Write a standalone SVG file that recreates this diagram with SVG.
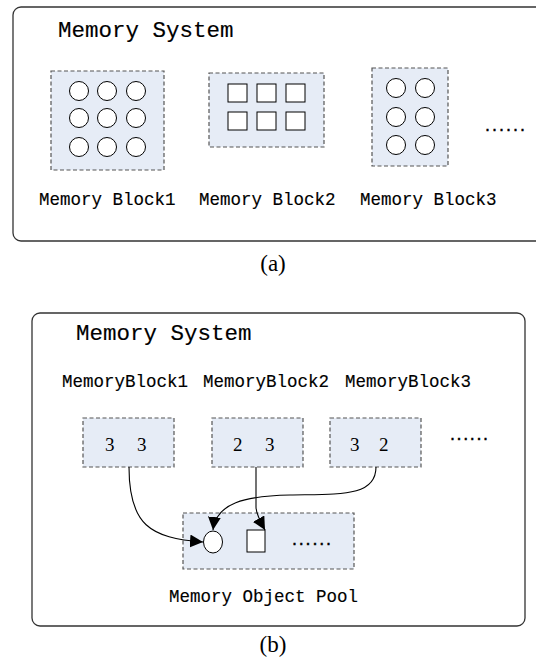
<svg xmlns="http://www.w3.org/2000/svg" width="536" height="662" viewBox="0 0 536 662">
<defs>
<marker id="arr" viewBox="0 0 10 10" refX="10" refY="5" markerWidth="13" markerHeight="13" markerUnits="userSpaceOnUse" orient="auto">
<path d="M0,0 L10,5 L0,10 Z" fill="#000"/>
</marker>
</defs>
<style>
.outer{fill:#fff;stroke:#333;stroke-width:1.3}
.blk{fill:#e6ecf6;stroke:#555;stroke-width:1.2;stroke-dasharray:4,2.5}
.obj{fill:#fff;stroke:#000;stroke-width:1}
.mono{font-family:"Liberation Mono","DejaVu Sans Mono",monospace;fill:#000;stroke:#000;stroke-width:0.15}
.title{font-size:22.5px}
.lbl{font-size:17.5px}
.num{font-family:"Liberation Serif","DejaVu Serif",serif;font-size:19px;fill:#000}
.cap{font-family:"Liberation Serif","DejaVu Serif",serif;font-size:23px;fill:#000;text-anchor:middle}
.dots{font-family:"Liberation Sans",sans-serif;font-size:18px;fill:#000;stroke:#000;stroke-width:0.4}
.con{fill:none;stroke:#000;stroke-width:1.1}
</style>
<rect width="536" height="662" fill="#fff"/>

<g id="panelA">
<rect class="outer" x="13" y="7" width="535" height="234" rx="8"/>
<text class="mono title" x="58" y="37">Memory System</text>
</g>
<g id="blockA1">
<rect class="blk" x="51" y="71" width="113" height="99"/>
<circle class="obj" cx="79" cy="91" r="9.5"/><circle class="obj" cx="107" cy="91" r="9.5"/><circle class="obj" cx="136" cy="91" r="9.5"/>
<circle class="obj" cx="79" cy="118" r="9.5"/><circle class="obj" cx="107" cy="118" r="9.5"/><circle class="obj" cx="136" cy="118" r="9.5"/>
<circle class="obj" cx="79" cy="147" r="9.5"/><circle class="obj" cx="107" cy="147" r="9.5"/><circle class="obj" cx="136" cy="147" r="9.5"/>
<text class="mono lbl" x="39" y="205">Memory Block1</text>
</g>
<g id="blockA2">
<rect class="blk" x="209" y="73" width="115" height="74"/>
<rect class="obj" x="228" y="84" width="19" height="18"/><rect class="obj" x="257" y="84" width="19" height="18"/><rect class="obj" x="286" y="84" width="19" height="18"/>
<rect class="obj" x="228" y="112" width="19" height="18"/><rect class="obj" x="257" y="112" width="19" height="18"/><rect class="obj" x="286" y="112" width="19" height="18"/>
<text class="mono lbl" x="199" y="205">Memory Block2</text>
</g>
<g id="blockA3">
<rect class="blk" x="372" y="68" width="76" height="98"/>
<circle class="obj" cx="396" cy="88" r="9.5"/><circle class="obj" cx="425" cy="88" r="9.5"/>
<circle class="obj" cx="396" cy="117" r="9.5"/><circle class="obj" cx="425" cy="117" r="9.5"/>
<circle class="obj" cx="396" cy="145" r="9.5"/><circle class="obj" cx="425" cy="145" r="9.5"/>
<text class="mono lbl" x="360" y="205">Memory Block3</text>
</g>
<g id="dotsA"><text class="dots" x="485" y="131" textLength="40">......</text></g>
<g id="capA"><text class="cap" x="273" y="271">(a)</text></g>

<g id="panelB">
<rect class="outer" x="32" y="313" width="493" height="313" rx="8"/>
<text class="mono title" x="76" y="340">Memory System</text>
</g>
<g id="blockB1">
<text class="mono lbl" x="62" y="387">MemoryBlock1</text>
<rect class="blk" x="83" y="418" width="91" height="49"/>
<text class="num" x="105" y="451">3</text><text class="num" x="137" y="451">3</text>
</g>
<g id="blockB2">
<text class="mono lbl" x="203" y="387">MemoryBlock2</text>
<rect class="blk" x="212" y="418" width="91" height="49"/>
<text class="num" x="233" y="451">2</text><text class="num" x="265" y="451">3</text>
</g>
<g id="blockB3">
<text class="mono lbl" x="345" y="387">MemoryBlock3</text>
<rect class="blk" x="330" y="418" width="91" height="49"/>
<text class="num" x="350" y="451">3</text><text class="num" x="379" y="451">2</text>
</g>
<g id="dotsB"><text class="dots" x="450" y="440" textLength="38">......</text></g>
<g id="pool">
<rect class="blk" x="183" y="513" width="171" height="56"/>
<ellipse class="obj" cx="213" cy="542" rx="9.5" ry="11"/>
<rect class="obj" x="247" y="530" width="18" height="22"/>
<text class="dots" x="292" y="545" textLength="39">......</text>
<text class="mono lbl" x="169" y="602">Memory Object Pool</text>
</g>
<g id="connectors">
<path class="con" marker-end="url(#arr)" d="M129,467 C129,525 150,538 203,542"/>
<path class="con" marker-end="url(#arr)" d="M256,467 L256,507 Q256,514 265,530"/>
<path class="con" marker-end="url(#arr)" d="M376,467 C376,497 340,494 290,495 C245,496 216,503 213,530"/>
</g>
<g id="capB"><text class="cap" x="273" y="652">(b)</text></g>
</svg>
